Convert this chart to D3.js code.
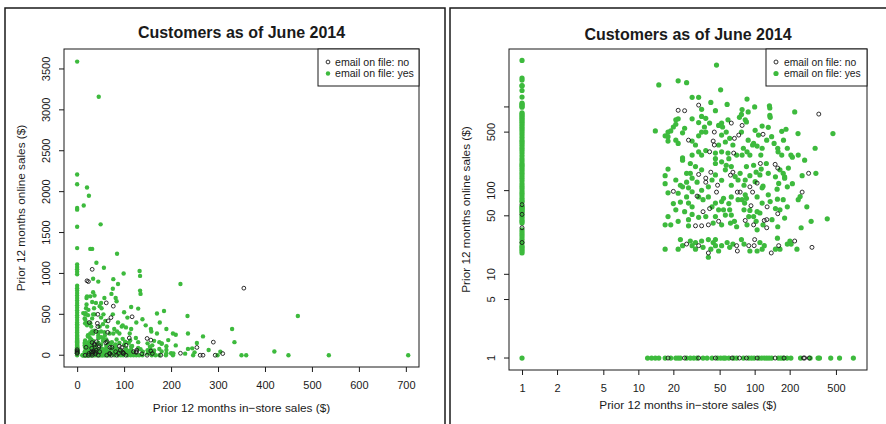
<!DOCTYPE html>
<html>
<head>
<meta charset="utf-8">
<script src="https://cdn.jsdelivr.net/npm/d3@7"></script>
<style>
  body { margin: 0; background: #fff; }
  svg { display: block; font-family: "Liberation Sans", Arial, Helvetica, sans-serif; }
</style>
</head>
<body>
<svg id="chart" width="886" height="424"></svg>
<script>
// Customers as of June 2014: store vs online spend, coloured by email on file
const chartTitle = 'Customers as of June 2014';
const xTitle = 'Prior 12 months in\u2212store sales ($)';
const yTitle = 'Prior 12 months online sales ($)';
const legendLabels = ['email on file: no', 'email on file: yes'];

const linXTicks = [0, 100, 200, 300, 400, 500, 600, 700];
const linYTicks = [0, 500, 1000, 1500, 2000, 2500, 3000, 3500];
const logXTicks = [1, 2, 5, 10, 20, 50, 100, 200, 500];
const logYTicks = [1, 5, 10, 50, 100, 500, 1000];
const logYLabels = ['1', '5', '10', '50', '100', '500', ''];

// [store spend, online spend]
const storeOnlyYes = [
  [11, 0], [12, 0], [13, 0], [14, 0], [16, 0], [18, 0], [20, 0], [21, 0], [22, 0], [25, 0],
  [27, 0], [29, 0], [31, 0], [35, 0], [38, 0], [42, 0], [47, 0], [50, 0], [53, 0], [55, 0],
  [59, 0], [65, 0], [69, 0], [79, 0], [88, 0], [93, 0], [98, 0], [108, 0], [114, 0], [120, 0],
  [126, 0], [132, 0], [139, 0], [159, 0], [167, 0], [175, 0], [189, 0], [204, 0], [247, 0],
  [299, 0], [350, 0], [360, 0], [450, 0], [536, 0], [705, 0]
];
const storeOnlyNo = [
  [17, 0], [24, 0], [32, 0], [45, 0], [63, 0], [73, 0], [84, 0], [104, 0], [149, 0], [178, 0],
  [262, 0], [268, 0], [294, 0]
];
const onlineOnlyYes = [
  [0, 0], [0, 3590], [0, 2210], [0, 2090], [0, 1800], [0, 1780], [0, 1570], [0, 1310], [0, 1110],
  [0, 1080], [0, 1050], [0, 1020], [0, 990], [0, 850], [0, 820], [0, 790], [0, 760], [0, 730],
  [0, 700], [0, 670], [0, 640], [0, 610], [0, 580], [0, 550], [0, 520], [0, 490], [0, 460],
  [0, 430], [0, 400], [0, 380], [0, 360], [0, 340], [0, 320], [0, 300], [0, 280], [0, 260],
  [0, 240], [0, 225], [0, 210], [0, 200], [0, 190], [0, 180], [0, 170], [0, 160], [0, 150],
  [0, 140], [0, 130], [0, 120], [0, 112], [0, 105], [0, 98], [0, 92], [0, 86], [0, 80], [0, 75],
  [0, 72], [0, 64], [0, 62], [0, 60], [0, 58], [0, 56], [0, 54], [0, 50], [0, 47], [0, 44],
  [0, 42], [0, 40], [0, 33], [0, 31], [0, 29], [0, 27], [0, 25], [0, 23], [0, 21], [0, 20],
  [0, 19], [0, 18], [0, 17]
];
const onlineOnlyNo = [[0, 67], [0, 51], [0, 35], [0, 23]];
const bothYes = [
  [46, 3160], [14, 1830], [21, 2050], [25, 1950], [50, 1600], [28, 1300], [32, 1300], [41, 1130],
  [57, 1070], [34, 935], [45, 900], [34, 770], [20, 700], [21, 720], [20, 620], [24, 555],
  [13, 515], [16, 450], [17, 500], [18, 515], [17, 390], [20, 400], [28, 390], [32, 450],
  [32, 650], [36, 575], [40, 640], [37, 500], [32, 290], [34, 265], [23, 245], [48, 600],
  [51, 640], [52, 575], [58, 700], [56, 500], [60, 420], [64, 350], [58, 280], [51, 290],
  [45, 280], [73, 750], [28, 720],
  [30, 350], [34, 500], [28, 265], [37, 300], [48, 350], [55, 380], [51, 460], [45, 240],
  [59, 240], [69, 265], [37, 730], [23, 490], [19, 575], [17, 440], [21, 365],
  [85, 1240], [99, 1000], [133, 1030], [134, 970], [134, 790], [135, 750], [220, 870], [77, 930],
  [87, 870], [82, 700], [84, 660], [115, 590], [130, 570], [170, 510], [185, 540], [235, 480],
  [470, 480], [330, 320], [95, 350], [104, 340], [115, 320], [158, 290], [170, 265], [210, 250],
  [85, 290], [77, 265], [90, 265], [76, 813],
  [79, 320], [87, 400], [97, 365], [107, 460], [126, 400], [146, 365], [157, 320], [190, 320],
  [204, 265], [112, 265], [76, 500], [100, 525], [176, 400], [139, 440], [236, 265], [268, 230],
  [17, 180], [16, 150], [16, 120], [17, 93], [22, 115], [25, 125], [27, 160], [23, 230],
  [27, 210], [28, 140], [31, 125], [23, 110], [26, 107], [28, 96], [22, 72], [26, 70], [20, 58],
  [24, 55], [28, 51], [32, 47], [21, 42], [16, 38], [18, 38], [26, 37], [43, 40], [51, 38],
  [45, 70], [53, 58], [60, 58], [66, 42], [53, 80], [62, 83], [51, 132], [62, 115], [56, 200],
  [22, 25], [28, 21], [30, 23], [35, 20], [39, 25], [43, 23], [16, 19], [21, 19], [45, 21],
  [60, 20], [64, 22], [48, 18], [39, 15],
  [45, 210], [51, 220], [55, 176], [62, 193], [67, 146], [42, 133], [45, 153], [39, 110],
  [34, 100], [32, 83], [35, 77], [39, 83], [51, 73], [59, 69], [42, 63], [48, 58], [55, 50],
  [62, 50], [71, 77], [71, 133], [30, 193], [34, 176], [25, 160], [20, 133], [21, 92], [25, 83],
  [28, 63], [19, 69], [17, 48], [37, 48], [26, 44], [45, 48], [61, 40], [69, 36],
  [23, 21], [27, 24], [34, 24], [41, 19], [51, 21], [57, 23], [45, 25], [30, 19],
  [335, 160], [255, 150], [180, 145], [210, 120], [245, 84], [280, 63], [420, 45], [250, 35],
  [200, 24], [230, 19], [190, 63], [140, 44], [102, 42], [104, 33], [156, 26], [104, 18],
  [115, 19], [80, 22], [90, 18], [150, 19], [205, 22], [90, 150], [102, 165], [113, 180],
  [130, 160], [150, 145], [175, 160], [180, 140], [155, 103], [117, 112], [115, 107], [80, 115],
  [82, 88], [77, 77], [115, 70], [150, 60], [90, 57], [104, 55], [80, 58], [88, 48], [85, 38],
  [190, 110], [156, 78], [125, 210], [81, 70],
  [84, 193], [97, 200], [74, 160], [110, 153], [164, 176], [194, 185], [82, 133], [100, 127],
  [160, 121], [84, 80], [104, 83], [130, 88], [135, 73], [175, 77], [164, 58], [110, 53],
  [97, 48], [117, 38], [157, 36], [180, 46], [305, 42], [236, 77],
  [76, 25], [110, 23], [164, 19], [120, 21], [190, 22]
];
const bothNo = [
  [21, 910], [24, 900], [32, 1050], [26, 400], [44, 500], [43, 390], [44, 350], [40, 290],
  [62, 640], [66, 420], [65, 280], [72, 460], [355, 820], [77, 600], [117, 470],
  [19, 97], [32, 155], [37, 140], [37, 125], [31, 85], [41, 165], [47, 115], [46, 95], [40, 60],
  [35, 55], [48, 42], [39, 38], [34, 37], [30, 37], [70, 95], [64, 165], [61, 152], [25, 22],
  [32, 21], [39, 17], [69, 21], [70, 18],
  [111, 210], [149, 205], [157, 185], [290, 160], [255, 95], [310, 20], [220, 24], [157, 52],
  [126, 44], [120, 43], [82, 43], [97, 38], [126, 35], [99, 25], [98, 21], [88, 21], [138, 17],
  [160, 21], [90, 110], [95, 95], [104, 122], [92, 65], [127, 63], [74, 95]
];

const emailYes = [...storeOnlyYes, ...onlineOnlyYes, ...bothYes];
const emailNo = [...storeOnlyNo, ...onlineOnlyNo, ...bothNo];

const GREEN = '#3dba3d';
const INK = '#1a1a1a';

const svg = d3.select('#chart');

function drawPanel(p) {
  const g = svg.append('g');

  // outer device frame
  g.append('rect')
    .attr('x', p.frame[0]).attr('y', p.frame[1])
    .attr('width', p.frame[2]).attr('height', p.frame[3])
    .attr('fill', 'none').attr('stroke', INK).attr('stroke-width', 1.5);

  const [left, top, right, bottom] = p.box;
  const x = p.x.range([left, right]);
  const y = p.y.range([bottom, top]);
  const px = d => x(p.log ? d[0] + 1 : d[0]);
  const py = d => y(p.log ? d[1] + 1 : d[1]);

  // points: green first, open black circles on top
  g.append('g').selectAll('circle')
    .data(emailYes)
    .join('circle')
    .attr('cx', px).attr('cy', py)
    .attr('r', p.dotR)
    .attr('fill', GREEN);

  g.append('g').selectAll('circle')
    .data(emailNo)
    .join('circle')
    .attr('cx', px).attr('cy', py)
    .attr('r', p.ringR)
    .attr('fill', 'none')
    .attr('stroke', INK)
    .attr('stroke-width', 0.9);

  // plot box
  g.append('rect')
    .attr('x', left).attr('y', top)
    .attr('width', right - left).attr('height', bottom - top)
    .attr('fill', 'none').attr('stroke', INK).attr('stroke-width', 1);

  // x axis
  const xAxis = g.append('g')
    .attr('transform', `translate(0,${bottom})`)
    .call(d3.axisBottom(x).tickValues(p.xTicks).tickFormat(d3.format('d'))
      .tickSize(5).tickPadding(9).tickSizeOuter(0));
  xAxis.select('.domain').remove();
  xAxis.selectAll('line').attr('stroke', INK);
  xAxis.selectAll('text').attr('fill', INK).style('font-size', '11px');

  // y axis with rotated labels, R style
  const yAxis = g.append('g');
  yAxis.selectAll('line')
    .data(p.yTicks)
    .join('line')
    .attr('x1', left - 5).attr('x2', left)
    .attr('y1', d => y(d)).attr('y2', d => y(d))
    .attr('stroke', INK);
  yAxis.selectAll('text')
    .data(p.yTicks)
    .join('text')
    .attr('transform', d => `translate(${left - 14},${y(d)}) rotate(-90)`)
    .attr('text-anchor', 'middle')
    .attr('fill', INK)
    .style('font-size', '11px')
    .text((d, i) => p.yLabels ? p.yLabels[i] : d);

  // titles
  g.append('text')
    .attr('x', (left + right) / 2).attr('y', p.titleY)
    .attr('text-anchor', 'middle')
    .attr('fill', INK)
    .style('font-size', '16px').style('font-weight', 'bold')
    .text(chartTitle);

  g.append('text')
    .attr('x', (left + right) / 2).attr('y', p.xTitleY)
    .attr('text-anchor', 'middle')
    .attr('fill', INK)
    .style('font-size', '11.8px')
    .text(xTitle);

  g.append('text')
    .attr('transform', `translate(${left - 39},${(top + bottom) / 2}) rotate(-90)`)
    .attr('text-anchor', 'middle')
    .attr('fill', INK)
    .style('font-size', '11.8px')
    .text(yTitle);

  // legend, top right inside the box
  const lw = 101, lh = 37;
  const lg = g.append('g').attr('transform', `translate(${right - lw},${top})`);
  lg.append('rect')
    .attr('width', lw).attr('height', lh)
    .attr('fill', '#fff').attr('stroke', INK).attr('stroke-width', 1);
  lg.append('circle')
    .attr('cx', 10).attr('cy', 13).attr('r', p.ringR)
    .attr('fill', 'none').attr('stroke', INK).attr('stroke-width', 0.9);
  lg.append('circle')
    .attr('cx', 10).attr('cy', 24.5).attr('r', p.dotR)
    .attr('fill', GREEN);
  lg.selectAll('text')
    .data(legendLabels)
    .join('text')
    .attr('x', p.legendTextX).attr('y', (d, i) => 13 + i * 11.5)
    .attr('dy', '0.35em')
    .attr('fill', INK)
    .style('font-size', p.legendFont)
    .text(d => d);
}

// left panel: linear axes
drawPanel({
  frame: [5, 8, 440, 430],
  box: [64, 49, 419, 367],
  x: d3.scaleLinear().domain([-28, 728]),
  y: d3.scaleLinear().domain([-144, 3744]),
  log: false,
  xTicks: linXTicks,
  yTicks: linYTicks,
  dotR: 2.2,
  ringR: 1.9,
  legendTextX: 17,
  legendFont: '10.6px',
  titleY: 37.5,
  xTitleY: 412
});

// right panel: log(x + 1) axes
drawPanel({
  frame: [450, 8, 440, 430],
  box: [509, 49, 867, 370],
  x: d3.scaleLog().domain([Math.pow(10, -0.112), Math.pow(10, 2.966)]),
  y: d3.scaleLog().domain([Math.pow(10, -0.143), Math.pow(10, 3.692)]),
  log: true,
  xTicks: logXTicks,
  yTicks: logYTicks,
  yLabels: logYLabels,
  dotR: 2.6,
  ringR: 2.0,
  legendTextX: 18,
  legendFont: '10.3px',
  titleY: 39.5,
  xTitleY: 409
});
</script>
</body>
</html>
